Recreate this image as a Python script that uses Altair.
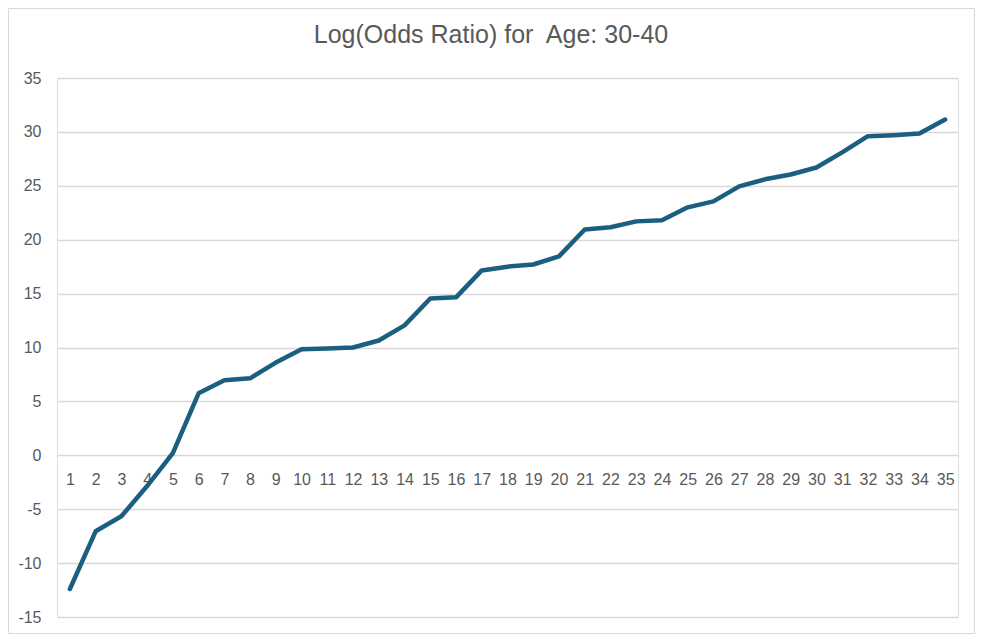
import altair as alt
import pandas as pd

categories = list(range(1, 36))
log_odds = [-12.4, -7.05, -5.66, -2.85, 0.2, 5.75, 6.96, 7.14, 8.6, 9.83,
            9.9, 10.0, 10.65, 12.05, 14.55, 14.65, 17.15, 17.5, 17.7, 18.45,
            20.95, 21.15, 21.7, 21.8, 23.0, 23.55, 24.95, 25.6, 26.05, 26.7,
            28.1, 29.6, 29.7, 29.85, 31.15]
y_ticks = [-15, -10, -5, 0, 5, 10, 15, 20, 25, 30, 35]
title_text = ["Log(Odds Ratio) for\u00a0 Age: 30-40"]

df = pd.DataFrame({"cat": categories, "val": log_odds})

W, H = 901, 539
LABEL_FONT = "Liberation Sans"
GREY = "#595959"

x_enc = alt.X("cat:Q",
              scale=alt.Scale(domain=[0.5, 35.5], nice=False, zero=False),
              axis=alt.Axis(values=categories, format="d", title=None, grid=False,
                            domain=False, ticks=False, tickSize=0,
                            labelFontSize=16, labelColor=GREY, labelFont=LABEL_FONT,
                            labelPadding=15, labelOverlap=False, labelFlush=False,
                            offset=-161))
y_enc = alt.Y("val:Q",
              scale=alt.Scale(domain=[-15, 35], nice=False, zero=False),
              axis=alt.Axis(values=y_ticks, title=None, grid=True, gridColor="#d9d9d9",
                            gridWidth=1.3, domain=False, ticks=False, tickSize=0,
                            labelExpr="'' + datum.value",
                            labelFontSize=16, labelColor=GREY, labelFont=LABEL_FONT,
                            labelPadding=16))

line = alt.Chart(df).mark_line(color="#1a5f80", strokeWidth=4.5,
                               strokeCap="round", strokeJoin="round").encode(
    x=x_enc, y=y_enc)

border = alt.Chart(pd.DataFrame({"a": [0]})).mark_rect(
    fill=None, stroke="#d9d9d9", strokeWidth=1).encode(
    x=alt.value(-48.5), x2=alt.value(917.5), y=alt.value(-69.5), y2=alt.value(555.5))

title = alt.Chart(pd.DataFrame({"t": title_text})).mark_text(
    font=LABEL_FONT, fontSize=25, color=GREY, align="center", baseline="alphabetic").encode(
    text="t:N", x=alt.value(434), y=alt.value(-35))

chart = alt.layer(line, border, title).properties(
    width=W, height=H,
    autosize=alt.AutoSizeParams(type="none"),
    padding={"left": 49, "top": 70, "right": 17, "bottom": 17},
).configure_view(strokeWidth=0).configure(background="white")

chart.save("out.html", embed_options={"renderer": "svg", "actions": False})
